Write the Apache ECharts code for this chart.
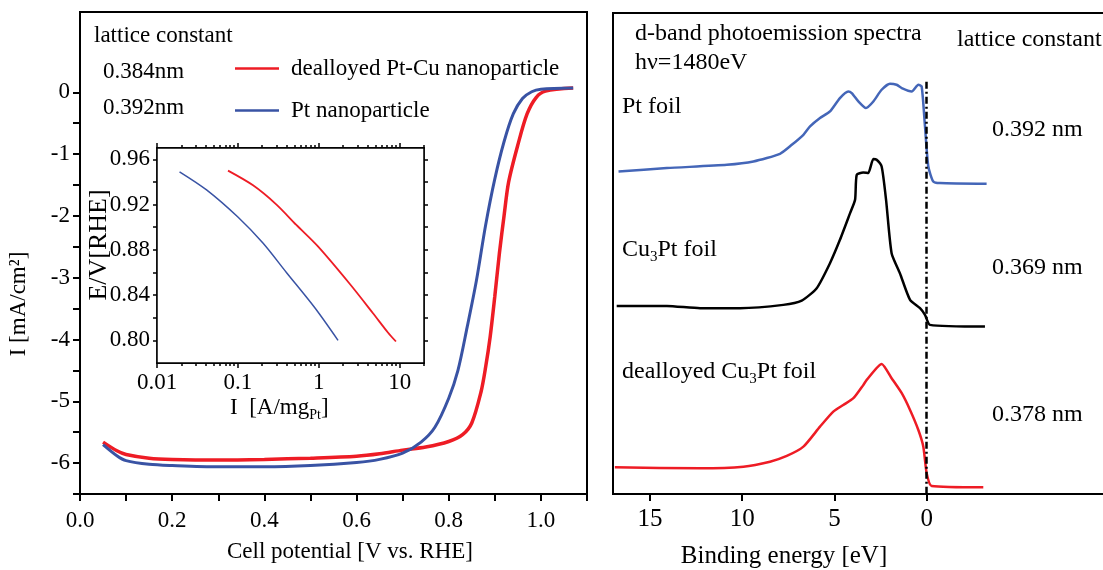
<!DOCTYPE html>
<html>
<head>
<meta charset="utf-8">
<script src="https://cdn.jsdelivr.net/npm/echarts@6/dist/echarts.min.js"></script>
<style>
  html, body { margin: 0; padding: 0; background: #fff; }
  #chart { width: 1103px; height: 570px; }
</style>
</head>
<body>
<div id="chart"></div>
<script>
const FONT = 'Liberation Serif'
const RED = '#ee1c25'
const BLUE = '#3953a4'

// polarization curves, cell potential [V] vs current [mA/cm2]
const ptcuPotential = [0.05, 0.08, 0.10, 0.15, 0.20, 0.30, 0.40, 0.50, 0.60, 0.65, 0.70, 0.75, 0.80, 0.83, 0.85, 0.87, 0.88, 0.89, 0.90, 0.91, 0.92, 0.93, 0.95, 0.97, 0.99, 1.01, 1.07]
const ptcuCurrent = [-5.66, -5.80, -5.86, -5.92, -5.94, -5.95, -5.94, -5.92, -5.89, -5.85, -5.79, -5.74, -5.65, -5.54, -5.35, -4.85, -4.45, -3.95, -3.30, -2.60, -2.00, -1.45, -0.85, -0.35, -0.08, 0.02, 0.07]
const ptPotential = [0.05, 0.08, 0.10, 0.15, 0.20, 0.30, 0.40, 0.50, 0.60, 0.65, 0.70, 0.74, 0.77, 0.80, 0.82, 0.84, 0.86, 0.88, 0.90, 0.92, 0.94, 0.96, 0.98, 1.00, 1.07]
const ptCurrent = [-5.70, -5.88, -5.96, -6.02, -6.04, -6.06, -6.06, -6.04, -5.99, -5.94, -5.84, -5.66, -5.42, -4.95, -4.50, -3.80, -3.05, -2.15, -1.40, -0.80, -0.35, -0.10, 0.01, 0.05, 0.07]

// inset: mass activity [A/mgPt] vs E [V RHE]
const ptcuMassI = [0.0755, 0.154, 0.30, 0.528, 0.977, 2.41, 4.68, 7.16, 9.0]
const ptcuMassE = [0.950, 0.937, 0.920, 0.902, 0.883, 0.850, 0.824, 0.807, 0.799]
const ptMassI = [0.019, 0.041, 0.1, 0.204, 0.398, 0.889, 1.73]
const ptMassE = [0.949, 0.933, 0.909, 0.886, 0.860, 0.829, 0.800]

// d-band spectra, binding energy [eV] vs intensity (offset, arb. units)
const ptFoilE = [16.7, 14.08, 10.83, 9.39, 7.95, 7.31, 6.68, 6.32, 5.78, 5.24, 4.70, 4.25, 4.06, 3.70, 3.29, 2.89, 2.44, 1.99, 1.63, 1.35, 0.81, 0.45, 0.27, 0.09, -0.09, -0.36, -0.72, -3.25]
const ptFoilI = [67.05, 67.76, 68.44, 69.13, 70.73, 72.6, 74.68, 76.41, 78.16, 79.53, 82.32, 83.69, 83.36, 81.61, 80.24, 81.61, 84.04, 85.29, 85.08, 84.40, 83.69, 85.08, 84.73, 76.41, 68.09, 64.97, 64.64, 64.49]
const cu3PtE = [16.8, 14.08, 12.28, 10.11, 7.77, 6.77, 5.96, 5.24, 4.70, 4.15, 3.88, 3.79, 3.44, 3.17, 2.89, 2.71, 2.44, 2.2, 1.9, 1.45, 0.9, 0.36, 0.09, -0.18, -3.16]
const cu3PtI = [39.11, 39.11, 38.63, 38.63, 39.32, 40.21, 42.79, 47.99, 52.84, 58.39, 61.16, 66.36, 66.84, 66.72, 69.63, 69.48, 68.09, 61.16, 50.07, 45.91, 40.36, 38.63, 37.24, 35.16, 34.80]
const dealloyedE = [16.9, 12.28, 9.93, 8.49, 7.58, 6.68, 5.78, 5.06, 4.52, 3.97, 3.43, 3.25, 2.44, 1.9, 1.35, 0.9, 0.45, 0.18, 0, -0.27, -3.07]
const dealloyedI = [5.55, 5.35, 5.68, 6.72, 7.91, 9.84, 14.0, 17.12, 18.51, 19.91, 22.68, 23.72, 27.04, 24.07, 20.95, 17.47, 13.31, 9.84, 4.31, 1.66, 1.39]
const fermiLineTop = 85.7

// tick labels / tick positions
const mainXTicks = [0, 0.1, 0.2, 0.3, 0.4, 0.5, 0.6, 0.7, 0.8, 0.9, 1.0, 1.1]
const mainXLabels = [0, 0.2, 0.4, 0.6, 0.8, 1.0]
const mainYTicks = [-6.5, -6, -5.5, -5, -4.5, -4, -3.5, -3, -2.5, -2, -1.5, -1, -0.5, 0]
const mainYLabels = [-6, -5, -4, -3, -2, -1, 0]
const insetXMajor = [0.01, 0.1, 1, 10]
const insetXMinor = [0.02, 0.03, 0.04, 0.05, 0.06, 0.07, 0.08, 0.09, 0.2, 0.3, 0.4, 0.5, 0.6, 0.7, 0.8, 0.9, 2, 3, 4, 5, 6, 7, 8, 9, 20]
const insetYTicks = [0.80, 0.82, 0.84, 0.86, 0.88, 0.90, 0.92, 0.94, 0.96]
const insetYLabels = [0.80, 0.84, 0.88, 0.92, 0.96]
const energyTicks = [0, 5, 10, 15]

function zip (xs, ys) {
  return xs.map((x, i) => [x, ys[i]])
}

const chart = echarts.init(document.getElementById('chart'))

const tickStyle = { color: '#000', width: 2 }
const insetLine = { color: '#000', width: 1.5 }
const text = (x, y, s, size, rich) => ({
  type: 'text', x: x, y: y,
  style: { text: s, fontFamily: FONT, fontSize: size, fill: '#000', verticalAlign: 'middle', rich: rich }
})
const subRich = (size) => ({
  n: { fontFamily: FONT, fontSize: size, lineHeight: size + 6 },
  s: { fontFamily: FONT, fontSize: Math.round(size * 0.62), lineHeight: 14, verticalAlign: 'bottom' }
})
// log axis of the inset, one per side and tick size
const insetLogAxis = (position, ticks, length, labels) => ({
  gridIndex: 1, type: 'log', logBase: 10, min: 0.01, max: 20, position: position,
  axisLine: { onZero: false, lineStyle: insetLine },
  axisTick: { customValues: ticks, length: length, lineStyle: insetLine },
  axisLabel: labels
    ? { customValues: labels, formatter: v => String(v), margin: 8, fontFamily: FONT, fontSize: 23, color: '#000' }
    : { show: false },
  splitLine: { show: false }
})

chart.setOption({
  animation: false,
  grid: [
    { left: 80, top: 12, width: 507, bottom: 76, show: true, borderColor: '#000', borderWidth: 2, outerBoundsMode: 'none' },
    { left: 157, top: 148, width: 267, height: 215, show: true, borderColor: '#000', borderWidth: 1.5, backgroundColor: '#fff', z: 5, outerBoundsMode: 'none' },
    { left: 613, top: 13, width: 500, bottom: 76, show: true, borderColor: '#000', borderWidth: 2, outerBoundsMode: 'none' }
  ],
  legend: {
    left: 235, top: 57, orient: 'vertical', padding: 0,
    icon: 'rect', itemWidth: 44, itemHeight: 2.5, itemGap: 19,
    textStyle: { fontFamily: FONT, fontSize: 23, color: '#000', padding: [0, 0, 0, 7] },
    data: ['dealloyed Pt-Cu nanoparticle', 'Pt nanoparticle']
  },
  xAxis: [
    {
      gridIndex: 0, type: 'value', min: 0, max: 1.1,
      axisLine: { onZero: false, lineStyle: { color: '#000', width: 2 } },
      axisTick: { customValues: mainXTicks, length: 7, lineStyle: tickStyle },
      axisLabel: { customValues: mainXLabels, formatter: v => v.toFixed(1), margin: 15, fontFamily: FONT, fontSize: 23, color: '#000' },
      splitLine: { show: false }
    },
    insetLogAxis('bottom', insetXMajor, 5, insetXMajor),
    insetLogAxis('bottom', insetXMinor, 3),
    insetLogAxis('top', insetXMajor, 5),
    insetLogAxis('top', insetXMinor, 3),
    {
      gridIndex: 2, type: 'value', min: -10.1, max: 17, inverse: true,
      axisLine: { onZero: false, lineStyle: { color: '#000', width: 2 } },
      axisTick: { customValues: energyTicks, length: 7, lineStyle: tickStyle },
      axisLabel: { customValues: energyTicks, margin: 13, fontFamily: FONT, fontSize: 25, color: '#000' },
      splitLine: { show: false }
    }
  ],
  yAxis: [
    {
      gridIndex: 0, type: 'value', min: -6.5, max: 1.3,
      axisLine: { show: true, onZero: false, lineStyle: { color: '#000', width: 2 } },
      axisTick: { show: true, customValues: mainYTicks, length: 7, lineStyle: tickStyle },
      axisLabel: { customValues: mainYLabels, margin: 10, fontFamily: FONT, fontSize: 23, color: '#000' },
      splitLine: { show: false }
    },
    {
      gridIndex: 1, type: 'value', min: 0.78, max: 0.97,
      axisLine: { show: true, onZero: false, lineStyle: insetLine },
      axisTick: { show: true, customValues: insetYTicks, length: 4, lineStyle: insetLine },
      axisLabel: { customValues: insetYLabels, formatter: v => v.toFixed(2), margin: 7, fontFamily: FONT, fontSize: 23, color: '#000' },
      splitLine: { show: false }
    },
    {
      gridIndex: 1, type: 'value', min: 0.78, max: 0.97, position: 'right',
      axisLine: { show: true, onZero: false, lineStyle: insetLine },
      axisTick: { show: true, customValues: insetYTicks, length: 4, lineStyle: insetLine },
      axisLabel: { show: false },
      splitLine: { show: false }
    },
    { gridIndex: 2, type: 'value', min: 0, max: 100, show: false }
  ],
  series: [
    {
      name: 'dealloyed Pt-Cu nanoparticle', type: 'line', xAxisIndex: 0, yAxisIndex: 0,
      data: zip(ptcuPotential, ptcuCurrent), symbol: 'none', smooth: 0.3,
      lineStyle: { color: RED, width: 3.5 }, itemStyle: { color: RED }
    },
    {
      name: 'Pt nanoparticle', type: 'line', xAxisIndex: 0, yAxisIndex: 0,
      data: zip(ptPotential, ptCurrent), symbol: 'none', smooth: 0.3,
      lineStyle: { color: BLUE, width: 3 }, itemStyle: { color: BLUE }
    },
    {
      name: 'inset Pt-Cu', type: 'line', xAxisIndex: 1, yAxisIndex: 1, z: 6,
      data: zip(ptcuMassI, ptcuMassE), symbol: 'none', smooth: 0.3,
      lineStyle: { color: RED, width: 1.8 }
    },
    {
      name: 'inset Pt', type: 'line', xAxisIndex: 1, yAxisIndex: 1, z: 6,
      data: zip(ptMassI, ptMassE), symbol: 'none', smooth: 0.3,
      lineStyle: { color: BLUE, width: 1.5 }
    },
    {
      name: 'Pt foil', type: 'line', xAxisIndex: 5, yAxisIndex: 3,
      data: zip(ptFoilE, ptFoilI), symbol: 'none', smooth: 0.2,
      lineStyle: { color: '#4466b8', width: 2.5 },
      markLine: {
        silent: true, symbol: 'none', label: { show: false },
        lineStyle: { color: '#000', width: 2.5, type: [7, 3, 2, 3] },
        data: [[{ coord: [0, fermiLineTop] }, { coord: [0, 0] }]]
      }
    },
    {
      name: 'Cu3Pt foil', type: 'line', xAxisIndex: 5, yAxisIndex: 3,
      data: zip(cu3PtE, cu3PtI), symbol: 'none', smooth: 0.2,
      lineStyle: { color: '#000', width: 2.5 }
    },
    {
      name: 'dealloyed Cu3Pt foil', type: 'line', xAxisIndex: 5, yAxisIndex: 3,
      data: zip(dealloyedE, dealloyedI), symbol: 'none', smooth: 0.2,
      lineStyle: { color: RED, width: 2.5 }
    }
  ],
  graphic: [
    text(94, 36, 'lattice constant', 23),
    text(103, 72, '0.384nm', 23),
    text(103, 108, '0.392nm', 23),
    {
      type: 'text', x: 19, y: 304, rotation: Math.PI / 2,
      style: { text: 'I [mA/cm²]', fontFamily: FONT, fontSize: 23, fill: '#000', align: 'center', verticalAlign: 'middle' }
    },
    {
      type: 'text', x: 350, y: 552,
      style: { text: 'Cell potential [V vs. RHE]', fontFamily: FONT, fontSize: 23, fill: '#000', align: 'center', verticalAlign: 'middle' }
    },
    {
      type: 'text', x: 99, y: 245, rotation: Math.PI / 2, z: 10,
      style: { text: 'E/V[RHE]', fontFamily: FONT, fontSize: 26, fill: '#000', align: 'center', verticalAlign: 'middle' }
    },
    {
      type: 'text', x: 230, y: 408, z: 10,
      style: { text: '{n|I  [A/mg}{s|Pt}{n|]}', verticalAlign: 'middle', rich: subRich(23) }
    },
    text(635, 34, 'd-band photoemission spectra', 24),
    text(635, 63, 'hν=1480eV', 24),
    text(957, 40, 'lattice constant', 24),
    text(622, 107, 'Pt foil', 24),
    text(992, 130, '0.392 nm', 24),
    text(622, 250, '{n|Cu}{s|3}{n|Pt foil}', 24, subRich(24)),
    text(992, 268, '0.369 nm', 24),
    text(622, 372, '{n|dealloyed Cu}{s|3}{n|Pt foil}', 24, subRich(24)),
    text(992, 415, '0.378 nm', 24),
    {
      type: 'text', x: 784, y: 556,
      style: { text: 'Binding energy [eV]', fontFamily: FONT, fontSize: 25, fill: '#000', align: 'center', verticalAlign: 'middle' }
    }
  ]
})
</script>
</body>
</html>
